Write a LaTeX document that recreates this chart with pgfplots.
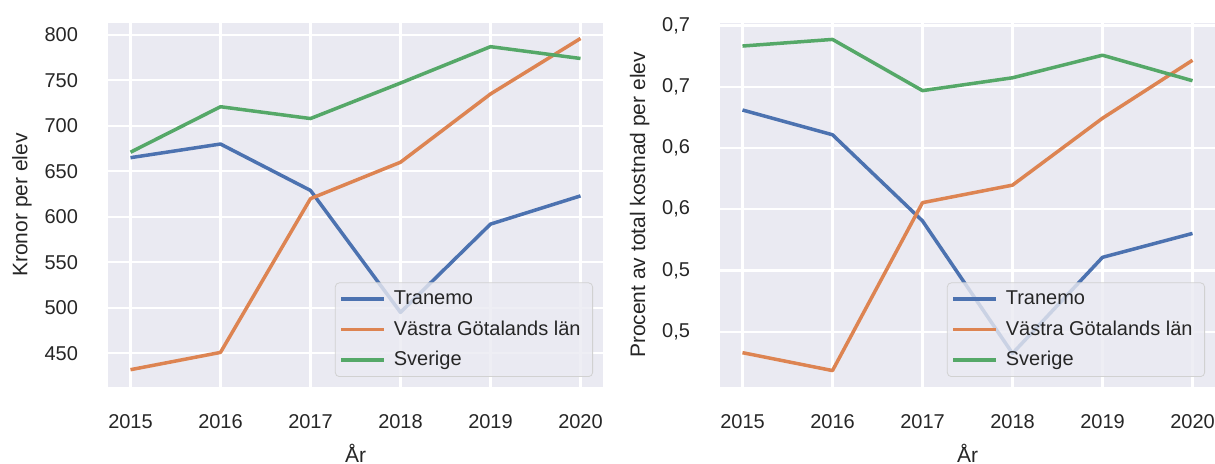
\documentclass[border=0pt]{standalone}
\usepackage{fontspec}
\setmainfont{Liberation Sans}
\usepackage{pgfplots}
\pgfplotsset{compat=1.18}
\definecolor{sbblue}{HTML}{4C72B0}
\definecolor{sborange}{HTML}{DD8452}
\definecolor{sbgreen}{HTML}{55A868}
\definecolor{sbbg}{HTML}{EAEAF2}
\definecolor{sbtext}{HTML}{262626}
\pgfplotsset{sbstyle/.style={
  scale only axis, width=247.5pt, height=182pt,
  axis background/.style={fill=sbbg},
  axis line style={draw=none},
  major tick length=0pt,
  grid=major, major grid style={white, line width=1.1pt},
  xmin=2014.75, xmax=2020.25,
  xtick={2015,2016,2017,2018,2019,2020},
  xticklabels={2015,2016,2017,2018,2019,2020},
  xticklabel style={yshift=-10pt},
  yticklabel style={xshift=-11.5pt},
  tick label style={font=\fontsize{10}{12}\selectfont, text=sbtext},
  label style={font=\fontsize{10.5}{12}\selectfont, text=sbtext},
  xlabel={År},
  xlabel style={at={(axis description cs:0.5,-0.181)}, anchor=center},
  legend cell align=left,
  legend style={at={(axis description cs:1,0)}, anchor=south east,
    xshift=-5pt, yshift=5pt, fill=sbbg, fill opacity=0.8, text opacity=1,
    draw=black!18, rounded corners=2pt, inner xsep=2pt, inner ysep=2pt,
    font=\fontsize{10}{12}\selectfont, text=sbtext, row sep=2.5pt,
    nodes={inner xsep=4pt}},
  legend image code/.code={\draw[##1] (0pt,0pt) -- (21.5pt,0pt);},
  every axis plot/.append style={line width=1.75pt, line join=round},
}}
\begin{document}
\begin{tikzpicture}
\useasboundingbox (0,0) rectangle (607.5pt,232pt);
\begin{axis}[sbstyle, at={(54pt,38.5pt)}, anchor=south west,
  ymin=413, ymax=813,
  ytick={450,500,550,600,650,700,750,800},
  yticklabels={450,500,550,600,650,700,750,800},
  ylabel={Kronor per elev},
  ylabel style={at={(axis description cs:-0.174,0.5)}, anchor=center}]
\addplot[sbblue] coordinates {(2015,665) (2016,680) (2017,629) (2018,495) (2019,592) (2020,623)};
\addlegendentry{Tranemo}
\addplot[sborange] coordinates {(2015,432) (2016,451) (2017,620) (2018,660) (2019,735) (2020,796)};
\addlegendentry{Västra Götalands län}
\addplot[sbgreen] coordinates {(2015,671) (2016,721) (2017,708) (2018,747) (2019,787) (2020,774)};
\addlegendentry{Sverige}
\end{axis}
\begin{axis}[sbstyle, at={(360pt,38.5pt)}, anchor=south west,
  ymin=0.405, ymax=0.702,
  ytick={0.45,0.50,0.55,0.60,0.65,0.70},
  yticklabels={{0,5},{0,5},{0,6},{0,6},{0,7},{0,7}},
  ylabel={Procent av total kostnad per elev},
  ylabel style={at={(axis description cs:-0.162,0.5)}, anchor=center}]
\addplot[sbblue] coordinates {(2015,0.631) (2016,0.6108) (2017,0.5405) (2018,0.4324) (2019,0.5108) (2020,0.5303)};
\addlegendentry{Tranemo}
\addplot[sborange] coordinates {(2015,0.433) (2016,0.4184) (2017,0.5554) (2018,0.5697) (2019,0.6243) (2020,0.6716)};
\addlegendentry{Västra Götalands län}
\addplot[sbgreen] coordinates {(2015,0.6832) (2016,0.6886) (2017,0.6468) (2018,0.6573) (2019,0.6757) (2020,0.6549)};
\addlegendentry{Sverige}
\end{axis}
\end{tikzpicture}
\end{document}
